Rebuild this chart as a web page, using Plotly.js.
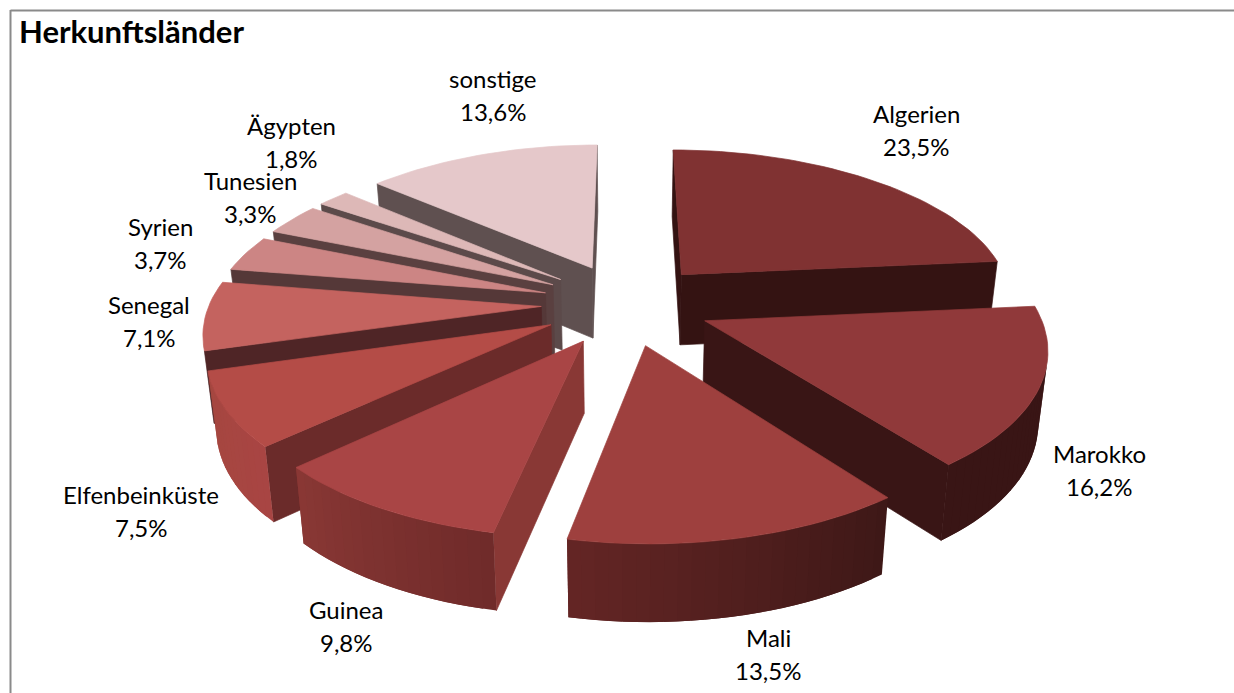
<!DOCTYPE html>
<html><head><meta charset="utf-8">
<script src="https://cdn.plot.ly/plotly-3.0.1.min.js"></script>
<style>html,body{margin:0;padding:0;background:#fff}#c{width:1234px;height:693px}</style>
</head><body><div id="c"></div>
<script>
const categories = ["Algerien","Marokko","Mali","Guinea","Elfenbeinküste","Senegal","Syrien","Tunesien","Ägypten","sonstige"];
const shares = [23.5,16.2,13.5,9.8,7.5,7.1,3.7,3.3,1.8,13.6];
const topColors = ["#803232","#90393A","#9E403E","#A94545","#B44C47","#C4635F","#CC8584","#D4A2A1","#DDB8B7","#E5C8CA"];
const outerFrom = ["#341312","#391515","#3E1817","#702B2A","#A84543","#4F2526","#55393A","#5A4444","#5E4E4E","#5F5050"];
const outerTo   = ["#341312","#391515","#652625","#8A3835","#A5473F","#4F2526","#55393A","#5A4444","#5E4E4E","#5F5050"];
const radialColors = ["#341312","#391515","#3E1817","#893835","#6B2B2A","#4F2526","#553838","#5A4040","#5C4A4A","#5F5050"];
const labelCentreX = [916,1099,768,346,141,149,160,250,291,493];
const labelNameY = [113,453,637,609,494,304,226,180,125,78];
const labelLineGap = 33;

// projection of the tilted, exploded pie onto the plot's axes
const CX=626, CY=304, A=337, B=151.5, EXPLODE_X=0.255, EXPLODE_Y=0.27;
function project(X,Y){
  const sx=Y<0 ? 0.985-0.14*Y+0.04*Y*Y : 0.985-0.14*Y;
  const ky=Y<0 ? 0.16 : 0.15;
  return [CX+A*X*sx, CY-B*Y/(1+ky*Y)];
}
function drop(p){return [CX+(p[0]-CX)*0.977, p[1]+70+(p[1]-268)*0.03];}
function hex(c){return [1,3,5].map(i=>parseInt(c.substr(i,2),16));}
function mix(a,b,t){const x=hex(a),y=hex(b);return 'rgb('+x.map((v,i)=>Math.round(v+(y[i]-v)*t)).join(',')+')';}
function poly(pts,color,w){
  const c=pts.concat([pts[0]]);
  return {type:'scatter',mode:'lines',x:c.map(p=>p[0]),y:c.map(p=>p[1]),fill:'toself',fillcolor:color,
    line:{color:color,width:w===undefined?0.7:w},hoverinfo:'skip',showlegend:false};
}
function area(q){let a=0;for(let i=0;i<q.length;i++){const p=q[i],n=q[(i+1)%q.length];a+=p[0]*n[1]-n[0]*p[1];}return a/2;}

const total=shares.reduce((a,b)=>a+b,0);
let acc=0;
const slices=categories.map((name,i)=>{
  const a0=acc/total*2*Math.PI; acc+=shares[i]; const a1=acc/total*2*Math.PI; const mid=(a0+a1)/2;
  return {i,a0,a1,mid};
});
const order=slices.slice().sort((p,q)=>Math.cos(q.mid)-Math.cos(p.mid));
const traces=[];
order.forEach(s=>{
  const ox=EXPLODE_X*Math.sin(s.mid), oy=EXPLODE_Y*Math.cos(s.mid);
  const apex=project(ox,oy);
  const steps=Math.max(3,Math.ceil((s.a1-s.a0)/(2*Math.PI/180)));
  const arc=[];
  for(let j=0;j<=steps;j++){const t=s.a0+(s.a1-s.a0)*j/steps;arc.push(project(ox+Math.sin(t),oy+Math.cos(t)));}
  [[apex,arc[0]],[arc[steps],apex]].forEach(e=>{
    const q=[e[0],e[1],drop(e[1]),drop(e[0])];
    if(area(q)<0) traces.push(poly(q,radialColors[s.i]));
  });
  // curved wall: strips overlap the next one so no seams show
  for(let j=0;j<steps;j++){
    const q=[arc[j],arc[j+1],drop(arc[j+1]),drop(arc[j])];
    if(area(q)<0){
      const e=Math.min(steps,j+2);
      const band=[];
      for(let m=j;m<=e;m++) band.push(arc[m]);
      for(let m=e;m>=j;m--) band.push(drop(arc[m]));
      traces.push(poly(band,mix(outerFrom[s.i],outerTo[s.i],j/steps),0));
    }
  }
  traces.push(poly([apex].concat(arc),topColors[s.i]));
});

const annotations=[];
const font={family:'Lato, Carlito, sans-serif',size:24,color:'#000'};
categories.forEach((name,i)=>{
  annotations.push({x:labelCentreX[i],y:labelNameY[i],xref:'x',yref:'y',text:name,showarrow:false,font,xanchor:'center',yanchor:'middle'});
  annotations.push({x:labelCentreX[i],y:labelNameY[i]+labelLineGap,xref:'x',yref:'y',
    text:shares[i].toFixed(1).replace('.',',')+'%',showarrow:false,font,xanchor:'center',yanchor:'middle'});
});
annotations.push({x:17,y:31,xref:'x',yref:'y',text:'<b>Herkunftsländer</b>',showarrow:false,
  font:{family:'Lato, Carlito, sans-serif',size:31,color:'#000'},xanchor:'left',yanchor:'middle'});

const layout={
  width:1234,height:693,margin:{l:0,r:0,t:0,b:0},
  paper_bgcolor:'#fff',plot_bgcolor:'#fff',showlegend:false,
  xaxis:{range:[0,1234],visible:false,fixedrange:true},
  yaxis:{range:[693,0],visible:false,fixedrange:true},
  annotations,
  shapes:[
    {type:'line',xref:'x',yref:'y',x0:10.5,x1:1234,y0:10.5,y1:10.5,line:{color:'#8A8A8A',width:2}},
    {type:'line',xref:'x',yref:'y',x0:10.5,x1:10.5,y0:10,y1:693,line:{color:'#8A8A8A',width:2}}
  ]
};
Plotly.newPlot('c',traces,layout,{displayModeBar:false,staticPlot:true});
</script></body></html>
